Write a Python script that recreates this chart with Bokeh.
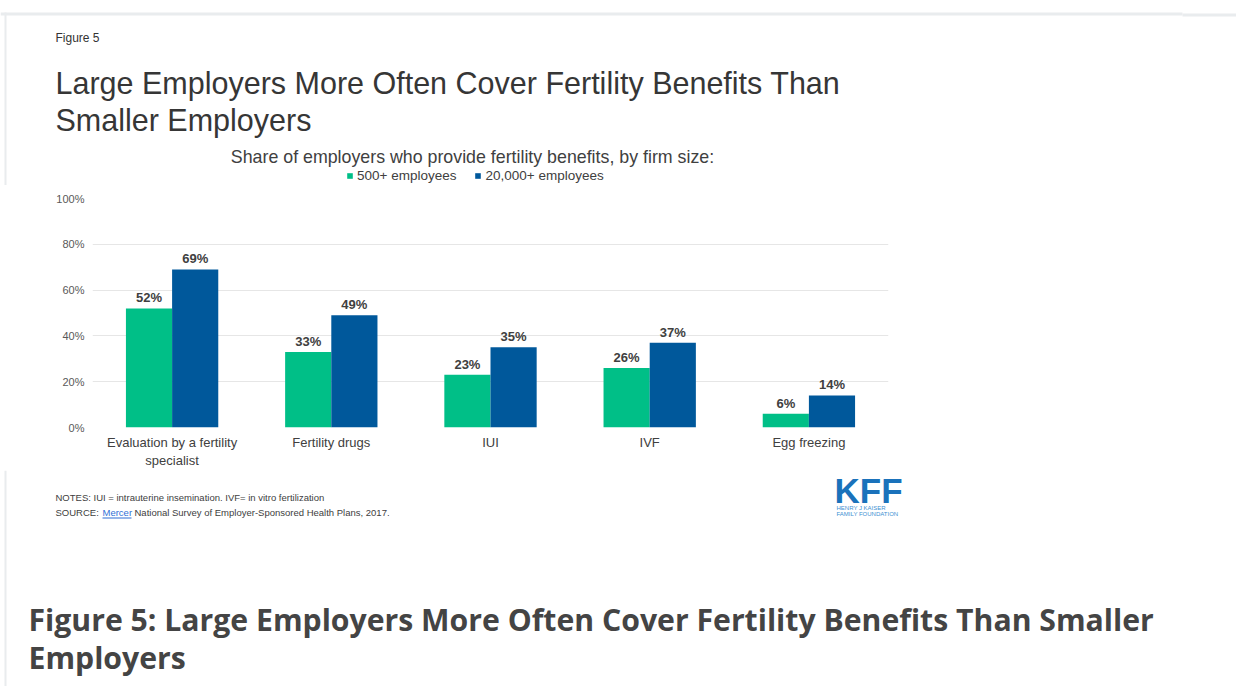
from bokeh.plotting import figure
from bokeh.models import (Label, FixedTicker, PrintfTickFormatter, ColumnDataSource,
                          Legend, LegendItem, Range1d, FactorRange)
from bokeh.transform import dodge
from bokeh.core.properties import value
from bokeh.embed import file_html
from bokeh.resources import INLINE

# ---- data ----
categories = ["Evaluation by a fertility\nspecialist", "Fertility drugs", "IUI", "IVF", "Egg freezing"]
series_names = ["500+ employees", "20,000+ employees"]
small_firms = [52, 33, 23, 26, 6]
large_firms = [69, 49, 35, 37, 14]
y_ticks = [0, 20, 40, 60, 80, 100]

GREEN = "#00bf87"
BLUE = "#00589b"
TXT = "#404040"
BORDER = "#e9ecee"
FONT = "Liberation Sans"

W = 1236
HEAD_H = 185
CHART_TOP, CHART_BOT = 185, 470
FOOT_H = 686 - CHART_BOT
FL, FR, FT, FB = 92, 888, 198, 427


def blank(h, top):
    f = figure(width=W, height=h, output_backend="svg", toolbar_location=None,
               x_range=Range1d(0, W), y_range=Range1d(top + h, top),
               x_axis_type=None, y_axis_type=None, min_border=0)
    f.outline_line_color = None
    f.xgrid.grid_line_color = None
    f.ygrid.grid_line_color = None
    f.background_fill_color = "white"
    f.border_fill_color = "white"
    return f


def lab(f, text, X, Y, size, color=TXT, bold=False, align="left", font=FONT,
        baseline="middle"):
    f.add_layout(Label(x=X, y=Y, text=text, text_align=align, text_baseline=baseline,
                       text_font=font, text_font_size=f"{size}px",
                       text_font_style="bold" if bold else "normal",
                       text_color=color))


# ---------------- header ----------------
head = blank(HEAD_H, 0)
head.quad(left=[0], right=[1182], top=[12], bottom=[15], fill_color=BORDER, line_color=None)
head.quad(left=[1182], right=[W], top=[13], bottom=[16], fill_color=BORDER, line_color=None)
head.quad(left=[4], right=[6], top=[12], bottom=[HEAD_H], fill_color=BORDER, line_color=None)
lab(head, "Figure 5", 55, 37, 12, "#333333")
lab(head, "Large Employers More Often Cover Fertility Benefits Than", 55, 82, 30.5, "#363636")
lab(head, "Smaller Employers", 55, 119, 30.5, "#363636")
lab(head, "Share of employers who provide fertility benefits, by firm size:", 472, 156, 17.8,
    TXT, align="center")

# legend swatches (renderers sit outside the visible range)
key_src = ColumnDataSource(dict(x=[-100], top=[0]))
g1 = head.vbar(x="x", top="top", width=1, source=key_src, fill_color=GREEN, line_color=None)
g2 = head.vbar(x="x", top="top", width=1, source=key_src, fill_color=BLUE, line_color=None)
legend = Legend(items=[LegendItem(label=series_names[0], renderers=[g1]),
                       LegendItem(label=series_names[1], renderers=[g2])],
                orientation="horizontal", location=(346, 2),
                glyph_width=7, glyph_height=7, label_height=13, label_standoff=4,
                spacing=18, padding=0, margin=0, border_line_color=None,
                background_fill_alpha=0, label_text_font=FONT,
                label_text_font_size="13.5px", label_text_color=TXT)
head.add_layout(legend, "center")

# ---------------- chart ----------------
p = figure(width=W, height=CHART_BOT - CHART_TOP, output_backend="svg", toolbar_location=None,
           x_range=FactorRange(*categories, range_padding=0),
           y_range=Range1d(0, 100),
           min_border_left=FL, min_border_right=W - FR,
           min_border_top=FT - CHART_TOP, min_border_bottom=CHART_BOT - FB)
p.outline_line_color = None
p.background_fill_color = "white"
p.border_fill_color = "white"

src = ColumnDataSource(dict(cat=categories, small=small_firms, large=large_firms,
                            small_lbl=[f"{v}%" for v in small_firms],
                            large_lbl=[f"{v}%" for v in large_firms]))

BW = 0.29
p.vbar(x=dodge("cat", -BW / 2, range=p.x_range), top="small", width=BW, bottom=0,
       source=src, fill_color=GREEN, line_color=None)
p.vbar(x=dodge("cat", BW / 2, range=p.x_range), top="large", width=BW, bottom=0,
       source=src, fill_color=BLUE, line_color=None)

for col, lbl, off in (("small", "small_lbl", -BW / 2), ("large", "large_lbl", BW / 2)):
    p.text(x=dodge("cat", off, range=p.x_range), y=col, text=lbl, source=src,
           text_align="center", text_baseline="bottom", y_offset=-3,
           text_font=value(FONT), text_font_style="bold", text_font_size="13px",
           text_color=TXT)

p.yaxis.ticker = FixedTicker(ticks=y_ticks)
p.yaxis.formatter = PrintfTickFormatter(format="%d%%")
p.yaxis.axis_line_color = None
p.yaxis.major_tick_line_color = None
p.yaxis.minor_tick_line_color = None
p.yaxis.major_tick_out = 0
p.yaxis.major_tick_in = 0
p.yaxis.major_label_standoff = 8
p.yaxis.major_label_text_font = FONT
p.yaxis.major_label_text_font_size = "11px"
p.yaxis.major_label_text_color = "#595959"

p.xaxis.axis_line_color = None
p.xaxis.major_tick_line_color = None
p.xaxis.minor_tick_line_color = None
p.xaxis.major_tick_out = 0
p.xaxis.major_tick_in = 0
p.xaxis.major_label_standoff = 7
p.xaxis.major_label_text_font = FONT
p.xaxis.major_label_text_font_size = "13px"
p.xaxis.major_label_text_color = TXT

p.xgrid.grid_line_color = None
p.ygrid.grid_line_color = "#e6e6e6"
p.ygrid.grid_line_width = 1

# ---------------- footer ----------------
foot = blank(FOOT_H, CHART_BOT)
foot.quad(left=[4], right=[6], top=[CHART_BOT], bottom=[686], fill_color=BORDER, line_color=None)
lab(foot, "NOTES: IUI = intrauterine insemination. IVF= in vitro fertilization", 55, 497, 9.5)
lab(foot, "SOURCE:", 55, 512, 9.5)
lab(foot, "Mercer", 102, 512, 9.5, "#2f6fd6")
foot.quad(left=[102], right=[131], top=[517], bottom=[518], fill_color="#2f6fd6", line_color=None)
lab(foot, "National Survey of Employer-Sponsored Health Plans, 2017.", 134, 512, 9.5)

lab(foot, "KFF", 834, 470, 35, "#1a72bb", bold=True, baseline="top")
lab(foot, "HENRY J KAISER", 836, 507, 6, "#3d8fd2")
lab(foot, "FAMILY FOUNDATION", 836, 513, 6, "#3d8fd2")

lab(foot, "Figure 5: Large Employers More Often Cover Fertility Benefits Than Smaller", 28, 619,
    30.2, "#444444", bold=True, font="Open Sans")
lab(foot, "Employers", 28, 657, 30.2, "#444444", bold=True, font="Open Sans")

open("out.html", "w").write(file_html([head, p, foot], INLINE))
